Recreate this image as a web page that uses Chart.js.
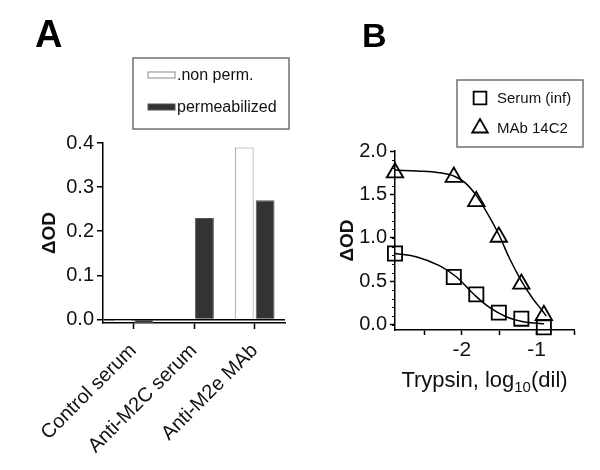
<!DOCTYPE html>
<html>
<head>
<meta charset="utf-8">
<script src="https://cdn.jsdelivr.net/npm/chart.js@4.4.1/dist/chart.umd.min.js"></script>
<style>
  body { margin: 0; background: #fff; }
  .panel { position: absolute; top: 0; width: 300px; height: 470px; }
</style>
</head>
<body>
<div class="panel" style="left:0"><canvas id="chartA"></canvas></div>
<div class="panel" style="left:300px"><canvas id="chartB"></canvas></div>
<script>
const FONT = '"Liberation Sans", Arial, Helvetica, sans-serif';

// ---- panel A data
const groups = ['Control serum', 'Anti-M2C serum', 'Anti-M2e MAb'];
const nonPerm = [-0.004, 0.0, 0.39];
const permeab = [-0.008, 0.23, 0.27];
const odTicksA = [0, 0.1, 0.2, 0.3, 0.4];

// ---- panel B data (log10 trypsin dilution)
const dilX = [-2.893, -2.107, -1.806, -1.505, -1.204, -0.903];
const serumOD = [0.82, 0.55, 0.35, 0.14, 0.07, -0.03];
const mabOD = [1.75, 1.70, 1.42, 1.01, 0.47, 0.11];
// fitted curves
const serumFitX = [-2.893, -2.6, -2.3, -2.07, -1.85, -1.63, -1.4, -1.18, -0.96, -0.9];
const serumFitY = [0.82, 0.78, 0.68, 0.55, 0.36, 0.20, 0.09, 0.035, 0.015, 0.012];
const mabFitX = [-2.893, -2.6, -2.3, -2.1, -1.95, -1.8, -1.65, -1.5, -1.36, -1.2, -1.05, -0.93, -0.87];
const mabFitY = [1.78, 1.77, 1.75, 1.71, 1.63, 1.48, 1.27, 1.03, 0.76, 0.50, 0.30, 0.17, 0.10];
const xTicksB = [-2.5, -2, -1.5, -1, -0.5];
const xLabelsB = [-2, -1];
const odTicksB = [0, 0.5, 1, 1.5, 2];
const odMinorB = Array.from({length: 21}, (_, i) => i / 10);

const pts = (xs, ys) => xs.map((x, i) => ({x: x, y: ys[i]}));

// panel letter, boxed legend, minor ticks, subscript axis title
const decor = {
  id: 'decor',
  afterDraw(chart, args, o) {
    const ctx = chart.ctx;
    ctx.save();
    ctx.fillStyle = '#000';
    ctx.font = `bold ${o.letterSize}px ${FONT}`;
    ctx.textBaseline = 'alphabetic';
    ctx.textAlign = 'left';
    ctx.fillText(o.letter, o.letterX, o.letterY);

    const b = o.box;
    ctx.strokeStyle = '#707070';
    ctx.lineWidth = 1.5;
    ctx.strokeRect(b.x, b.y, b.w, b.h);
    ctx.font = `${o.legendSize}px ${FONT}`;
    ctx.textBaseline = 'middle';
    o.items.forEach((di, i) => {
      const ds = chart.data.datasets[di];
      const y = b.y + o.rowY[i];
      if (o.swatch === 'bar') {
        ctx.fillStyle = ds.backgroundColor;
        ctx.fillRect(o.swatchX, y - 3, 27, 6);
        ctx.strokeStyle = ds.borderColor;
        ctx.lineWidth = 1;
        ctx.strokeRect(o.swatchX, y - 3, 27, 6);
      } else {
        ctx.strokeStyle = '#000';
        ctx.fillStyle = 'rgba(0,0,0,0)';
        ctx.lineWidth = ds.borderWidth;
        Chart.helpers.drawPoint(ctx, {pointStyle: ds.pointStyle, radius: 9, rotation: 0, borderWidth: ds.borderWidth}, o.swatchX, y);
      }
      ctx.fillStyle = '#111';
      ctx.fillText(ds.label, o.textX, y + 1);
    });

    if (o.minor) {
      const ys = chart.scales.y;
      ctx.strokeStyle = '#000';
      ctx.lineWidth = 1;
      o.minor.forEach(v => {
        const py = Math.round(ys.getPixelForValue(v)) + 0.5;
        ctx.beginPath();
        ctx.moveTo(ys.right - 3, py);
        ctx.lineTo(ys.right, py);
        ctx.stroke();
      });
    }

    if (o.xTitle) {
      const t = o.xTitle;
      const big = `${t.size}px ${FONT}`, small = `${t.subSize}px ${FONT}`;
      ctx.textBaseline = 'alphabetic';
      ctx.font = big;
      const w1 = ctx.measureText(t.main).width, w3 = ctx.measureText(t.tail).width;
      ctx.font = small;
      const w2 = ctx.measureText(t.sub).width;
      const area = chart.chartArea;
      let x = (area.left + area.right) / 2 - (w1 + w2 + w3) / 2 + t.dx;
      ctx.fillStyle = '#111';
      ctx.font = big; ctx.fillText(t.main, x, t.y); x += w1;
      ctx.font = small; ctx.fillText(t.sub, x, t.y + 5); x += w2;
      ctx.font = big; ctx.fillText(t.tail, x, t.y);
    }
    ctx.restore();
  }
};
Chart.register(decor);

// ---------------- A
new Chart(document.getElementById('chartA'), {
  type: 'bar',
  data: {
    labels: groups,
    datasets: [
      {label: '.non perm.', data: nonPerm, backgroundColor: '#ffffff', borderColor: '#8a8a8a', borderWidth: 1},
      {label: 'permeabilized', data: permeab, backgroundColor: '#333333', borderColor: '#555555', borderWidth: 1}
    ]
  },
  options: {
    responsive: true,
    maintainAspectRatio: false,
    animation: false,
    layout: {padding: {top: 143, right: 15, bottom: 0, left: 0}},
    datasets: {bar: {categoryPercentage: 0.69, barPercentage: 0.9}},
    plugins: {
      legend: {display: false},
      tooltip: {enabled: false},
      decor: {
        letter: 'A', letterSize: 38, letterX: 35, letterY: 47,
        box: {x: 133, y: 58, w: 156, h: 71},
        legendSize: 16, swatch: 'bar', swatchX: 148, textX: 177,
        items: [0, 1], rowY: [17, 49]
      }
    },
    scales: {
      x: {
        offset: true,
        afterFit: s => { s.height = 147; },
        grid: {offset: false, drawOnChartArea: false, tickLength: 6, tickColor: '#000', tickWidth: 1.5},
        border: {color: '#000', width: 1.5},
        ticks: {minRotation: 45, maxRotation: 45, color: '#111', font: {family: FONT, size: 20}, padding: 10}
      },
      y: {
        min: -0.008, max: 0.4,
        afterFit: s => { s.width = 103; },
        afterBuildTicks: s => { s.ticks = odTicksA.map(v => ({value: v})); },
        grid: {
          color: c => (c.tick && c.tick.value === 0 ? '#000' : 'rgba(0,0,0,0)'),
          lineWidth: 1.5, tickLength: 6, tickColor: '#000', tickWidth: 1.5
        },
        border: {color: '#000', width: 1.5},
        ticks: {color: '#111', font: {family: FONT, size: 20}, padding: 3, callback: v => v.toFixed(1)},
        title: {display: true, text: 'ΔOD', color: '#111', font: {family: FONT, size: 19, weight: 'bold'}, padding: {top: 38, bottom: 0}}
      }
    }
  }
});

// ---------------- B
new Chart(document.getElementById('chartB'), {
  type: 'scatter',
  data: {
    datasets: [
      {label: 'Serum (inf)', data: pts(dilX, serumOD), pointStyle: 'rect', pointRadius: 10,
       borderColor: '#000', backgroundColor: 'rgba(0,0,0,0)', borderWidth: 1.8, showLine: false},
      {label: 'MAb 14C2', data: pts(dilX, mabOD), pointStyle: 'triangle', pointRadius: 9.5,
       borderColor: '#000', backgroundColor: 'rgba(0,0,0,0)', borderWidth: 1.8, showLine: false},
      {label: 'serum fit', data: pts(serumFitX, serumFitY), showLine: true, pointRadius: 0,
       borderColor: '#000', borderWidth: 1.5, tension: 0.4, fill: false},
      {label: 'MAb fit', data: pts(mabFitX, mabFitY), showLine: true, pointRadius: 0,
       borderColor: '#000', borderWidth: 1.5, tension: 0.4, fill: false}
    ]
  },
  options: {
    responsive: true,
    maintainAspectRatio: false,
    animation: false,
    clip: false,
    layout: {padding: {top: 151, right: 26, bottom: 0, left: 0}},
    plugins: {
      legend: {display: false},
      tooltip: {enabled: false},
      decor: {
        letter: 'B', letterSize: 34, letterX: 62, letterY: 47,
        box: {x: 157, y: 80, w: 126, h: 67},
        legendSize: 15, swatch: 'point', swatchX: 180, textX: 197,
        items: [0, 1], rowY: [18, 48],
        minor: odMinorB,
        xTitle: {main: 'Trypsin, log', sub: '10', tail: '(dil)', size: 22, subSize: 15, y: 387, dx: 0}
      }
    },
    scales: {
      x: {
        type: 'linear', min: -2.893, max: -0.5,
        afterFit: s => { s.height = 140; },
        afterBuildTicks: s => { s.ticks = xTicksB.map(v => ({value: v})); },
        grid: {drawOnChartArea: false, tickLength: 5, tickColor: '#000', tickWidth: 1.5},
        border: {color: '#000', width: 1.5},
        ticks: {color: '#111', font: {family: FONT, size: 21}, padding: 3,
                callback: v => (xLabelsB.includes(v) ? String(v) : '')}
      },
      y: {
        min: -0.06, max: 2.0,
        afterFit: s => { s.width = 95; },
        afterBuildTicks: s => { s.ticks = odTicksB.map(v => ({value: v})); },
        grid: {drawOnChartArea: false, tickLength: 5, tickColor: '#000', tickWidth: 1.5},
        border: {color: '#000', width: 1.5},
        ticks: {color: '#111', font: {family: FONT, size: 20}, padding: 3, callback: v => v.toFixed(1)},
        title: {display: true, text: 'ΔOD', color: '#111', font: {family: FONT, size: 19, weight: 'bold'}, padding: {top: 36, bottom: 0}}
      }
    }
  }
});
</script>
</body>
</html>
